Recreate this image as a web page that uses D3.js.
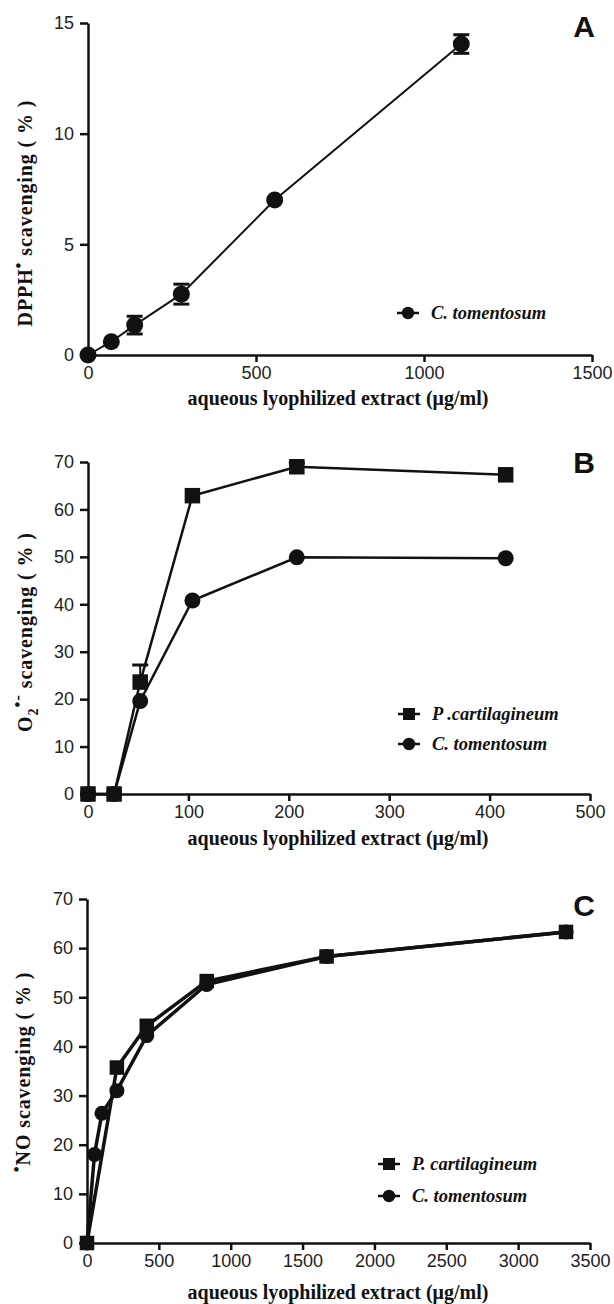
<!DOCTYPE html>
<html>
<head>
<meta charset="utf-8">
<script src="https://cdn.jsdelivr.net/npm/d3@7"></script>
<style>
  body { margin: 0; background: #fff; }
  .tick text { font-family: "Liberation Sans", Arial, sans-serif; font-size: 18px; fill: #222; }
  .title { font-family: "Liberation Serif", "Times New Roman", serif; font-weight: bold; font-size: 20px; fill: #111; }
  .ytitle { letter-spacing: 0.9px; }
  .legend { font-family: "Liberation Serif", "Times New Roman", serif; font-weight: bold; font-style: italic; font-size: 18.5px; fill: #111; }
  .letter { font-family: "Liberation Sans", Arial, sans-serif; font-weight: bold; font-size: 30px; fill: #111; }
</style>
</head>
<body>
<svg id="chart" width="614" height="1304"></svg>
<script>
// Panel A: DPPH scavenging
const doseA = [0, 69.4, 138.9, 277.8, 555.6, 1111];
const dpphTom = [0, 0.6, 1.35, 2.75, 7.0, 14.05];
const dpphTomErr = [0, 0, 0.4, 0.45, 0, 0.42];

// Panel B: superoxide scavenging
const doseB = [0, 26, 52, 104, 208, 416];
const o2Cart = [0, 0, 23.6, 62.9, 69, 67.3];
const o2CartErr = [0, 0, 3.6, 0, 0.8, 0];
const o2Tom = [0, 0, 19.6, 40.8, 49.9, 49.7];

// Panel C: nitric oxide scavenging
const doseCartC = [0, 208, 416, 833, 1667, 3333];
const noCart = [0, 35.7, 44.2, 53.3, 58.3, 63.3];
const doseTomC = [0, 52, 104, 208, 416, 833, 1667, 3333];
const noTom = [0, 18, 26.4, 31, 42.2, 52.6, 58.3, 63.3];

const xTitle = "aqueous lyophilized extract (\u03BCg/ml)";

const svg = d3.select("#chart");

function drawPanel(p) {
  const x = d3.scaleLinear().domain(p.xDomain).range(p.xRange);
  const y = d3.scaleLinear().domain(p.yDomain).range(p.yRange);
  const g = svg.append("g");

  // axes
  const ax = g.append("g")
    .attr("transform", "translate(0," + p.yRange[0] + ")")
    .call(d3.axisBottom(x).tickValues(p.xTicks).tickSizeInner(7).tickSizeOuter(0).tickPadding(4).tickFormat(d3.format("d")));
  const ay = g.append("g")
    .attr("transform", "translate(" + p.xRange[0] + ",0)")
    .call(d3.axisLeft(y).tickValues(p.yTicks).tickSizeInner(8).tickSizeOuter(0).tickPadding(6).tickFormat(d3.format("d")));
  [ax, ay].forEach(a => {
    a.select(".domain").attr("stroke", "#111").attr("stroke-width", 2.5);
    a.selectAll(".tick line").attr("stroke", "#111").attr("stroke-width", 2.5);
  });

  // series
  p.series.forEach(s => {
    const pts = s.x.map((d, i) => ({x: d, y: s.y[i], e: s.err ? s.err[i] : 0}));
    g.append("path")
      .datum(pts)
      .attr("fill", "none")
      .attr("stroke", "#111")
      .attr("stroke-width", p.lineWidth)
      .attr("d", d3.line().x(d => x(d.x)).y(d => y(d.y)));

    // error bars
    pts.filter(d => d.e > 0).forEach(d => {
      const lo = s.errUpOnly ? d.y : d.y - d.e;
      g.append("line").attr("x1", x(d.x)).attr("x2", x(d.x))
        .attr("y1", y(lo)).attr("y2", y(d.y + d.e))
        .attr("stroke", "#111").attr("stroke-width", 2);
      const caps = s.errUpOnly ? [d.y + d.e] : [d.y + d.e, d.y - d.e];
      caps.forEach(v => {
        g.append("line").attr("x1", x(d.x) - 8).attr("x2", x(d.x) + 8)
          .attr("y1", y(v)).attr("y2", y(v))
          .attr("stroke", "#111").attr("stroke-width", 3);
      });
    });

    drawMarkers(g, s.shape, pts.map(d => [x(d.x), y(d.y)]), p.markerSize);
  });

  // legend
  p.legend.forEach(l => {
    g.append("line").attr("x1", l.x - 11).attr("x2", l.x + 11)
      .attr("y1", l.y).attr("y2", l.y).attr("stroke", "#111").attr("stroke-width", 2.5);
    drawMarkers(g, l.shape, [[l.x, l.y]], 12.5);
    g.append("text").attr("class", "legend")
      .attr("x", l.x + 23).attr("y", l.y + 6).text(l.label);
  });

  // x title
  g.append("text").attr("class", "title")
    .attr("x", p.xTitlePos[0]).attr("y", p.xTitlePos[1])
    .attr("text-anchor", "middle").text(xTitle);

  // y title
  const yt = g.append("text").attr("class", "title ytitle")
    .attr("transform", "translate(" + p.yTitlePos[0] + "," + p.yTitlePos[1] + ") rotate(-90)")
    .attr("text-anchor", "middle");
  p.yTitle.forEach(part => {
    const t = yt.append("tspan").text(part.t);
    if (part.dy) t.attr("dy", part.dy);
    if (part.size) t.attr("font-size", part.size);
  });

  g.append("text").attr("class", "letter")
    .attr("x", p.letterPos[0]).attr("y", p.letterPos[1])
    .attr("text-anchor", "middle").text(p.letter);
}

function drawMarkers(g, shape, pts, size) {
  pts.forEach(([cx, cy]) => {
    if (shape === "circle") {
      g.append("circle").attr("cx", cx).attr("cy", cy).attr("r", size / 2).attr("fill", "#111");
    } else {
      const s = size - 0.5;
      g.append("rect").attr("x", cx - s / 2).attr("y", cy - s / 2)
        .attr("width", s).attr("height", s).attr("fill", "#111");
    }
  });
}

drawPanel({
  xDomain: [0, 1500], xRange: [88, 592], yDomain: [0, 15], yRange: [355, 23],
  xTicks: [0, 500, 1000, 1500], yTicks: [0, 5, 10, 15], lineWidth: 2, markerSize: 17,
  series: [{x: doseA, y: dpphTom, err: dpphTomErr, shape: "circle"}],
  legend: [{x: 408, y: 313, shape: "circle", label: "C. tomentosum"}],
  xTitlePos: [338, 405],
  yTitlePos: [32, 213],
  yTitle: [{t: "DPPH"}, {t: "\u2022", dy: -8, size: 17}, {t: " scavenging ( % )", dy: 8}],
  letter: "A", letterPos: [584, 37]
});

drawPanel({
  xDomain: [0, 500], xRange: [88, 590], yDomain: [0, 70], yRange: [794, 462],
  xTicks: [0, 100, 200, 300, 400, 500], yTicks: [0, 10, 20, 30, 40, 50, 60, 70], lineWidth: 2.5, markerSize: 16,
  series: [
    {x: doseB, y: o2Tom, shape: "circle"},
    {x: doseB, y: o2Cart, err: o2CartErr, errUpOnly: true, shape: "square"}
  ],
  legend: [
    {x: 409, y: 714, shape: "square", label: "P .cartilagineum"},
    {x: 409, y: 744, shape: "circle", label: "C. tomentosum"}
  ],
  xTitlePos: [338, 845],
  yTitlePos: [32, 632],
  yTitle: [{t: "O"}, {t: "2", dy: 6, size: 14}, {t: "\u2022-", dy: -15, size: 17}, {t: " scavenging ( % )", dy: 9}],
  letter: "B", letterPos: [584, 473]
});

drawPanel({
  xDomain: [0, 3500], xRange: [87, 590], yDomain: [0, 70], yRange: [1243, 899],
  xTicks: [0, 500, 1000, 1500, 2000, 2500, 3000, 3500], yTicks: [0, 10, 20, 30, 40, 50, 60, 70], lineWidth: 3.5, markerSize: 15,
  series: [
    {x: doseTomC, y: noTom, shape: "circle"},
    {x: doseCartC, y: noCart, shape: "square"}
  ],
  legend: [
    {x: 389, y: 1164, shape: "square", label: "P. cartilagineum"},
    {x: 389, y: 1196, shape: "circle", label: "C. tomentosum"}
  ],
  xTitlePos: [338, 1299],
  yTitlePos: [30, 1072],
  yTitle: [{t: "\u2022", dy: -8, size: 17}, {t: "NO scavenging ( % )", dy: 8}],
  letter: "C", letterPos: [584, 916]
});
</script>
</body>
</html>
